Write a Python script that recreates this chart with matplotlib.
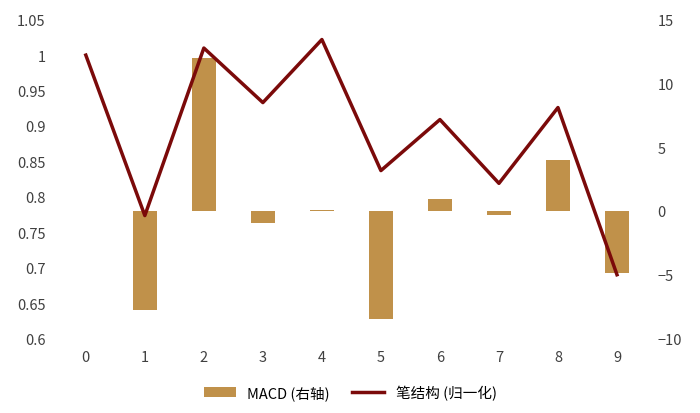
import matplotlib
matplotlib.use("Agg")
import matplotlib.pyplot as plt

plt.rcParams['font.family'] = ['Noto Sans CJK SC', 'DejaVu Sans']

x = list(range(10))
line_vals = [1.0, 0.7735, 1.010, 0.933, 1.022, 0.837, 0.909, 0.819, 0.926, 0.690]
macd = [0.0, -7.76, 12.0, -0.95, 0.1, -8.5, 0.95, -0.3, 4.0, -4.85]
left_ticks = [0.6, 0.65, 0.7, 0.75, 0.8, 0.85, 0.9, 0.95, 1, 1.05]
right_ticks = [-10, -5, 0, 5, 10, 15]

fig = plt.figure(figsize=(7, 4.14), dpi=100)
ax = fig.add_axes([0.072, 0.18, 0.86, 0.77])
ax2 = ax.twinx()
ax.set_zorder(ax2.get_zorder() + 1)
ax.patch.set_visible(False)

bars = ax2.bar(x, macd, width=0.4, color='#C0914A', label='MACD (右轴)')
ln, = ax.plot(x, line_vals, color='#7B0A0A', lw=2.5, label='笔结构 (归一化)')

ax.set_ylim(0.6, 1.05)
ax.set_yticks(left_ticks)
ax.set_yticklabels(['0.6', '0.65', '0.7', '0.75', '0.8', '0.85', '0.9', '0.95', '1', '1.05'])
ax2.set_ylim(-10, 15)
ax2.set_yticks(right_ticks)
ax.set_xlim(-0.6, 9.6)
ax.set_xticks(x)
for a in (ax, ax2):
    for s in a.spines.values():
        s.set_visible(False)
    a.tick_params(length=0, labelsize=10.5, colors='#404040')
ax.tick_params(axis='x', pad=8)

fig.legend([bars, ln], ['MACD (右轴)', '笔结构 (归一化)'], loc='lower center',
           ncol=2, frameon=False, fontsize=10.5, bbox_to_anchor=(0.5, 0.0),
           handlelength=2.2, columnspacing=1.5)
fig.savefig('out.png', dpi=100)
